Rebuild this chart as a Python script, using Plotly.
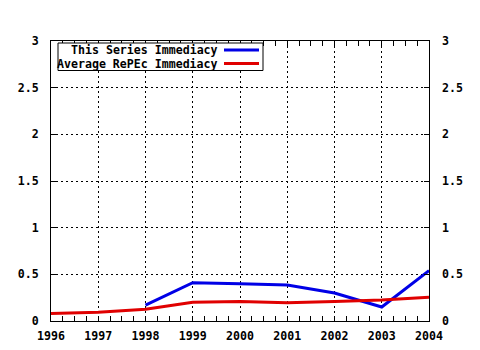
import plotly.graph_objects as go

years_blue = [1998, 1999, 2000, 2001, 2002, 2003, 2004]
series_immediacy = [0.17, 0.41, 0.40, 0.385, 0.30, 0.15, 0.54]

years_red = [1996, 1997, 1998, 1999, 2000, 2001, 2002, 2003, 2004]
average_immediacy = [0.08, 0.095, 0.125, 0.20, 0.21, 0.195, 0.21, 0.225, 0.255]

x_ticks = [1996, 1997, 1998, 1999, 2000, 2001, 2002, 2003, 2004]
y_ticks = [0, 0.5, 1, 1.5, 2, 2.5, 3]
y_labels = ["0", "0.5", "1", "1.5", "2", "2.5", "3"]
legend_names = ["This Series Immediacy", "Average RePEc Immediacy"]
colors = ["#0000e6", "#e00000"]

FAM = "DejaVu Sans Mono, Liberation Mono, monospace"
TICKFONT = dict(family=FAM, size=11.6, color="black", weight="bold")

fig = go.Figure()
fig.add_trace(go.Scatter(x=years_blue, y=series_immediacy, mode="lines",
                         line=dict(color=colors[0], width=3), showlegend=False))
fig.add_trace(go.Scatter(x=years_red, y=average_immediacy, mode="lines",
                         line=dict(color=colors[1], width=3), showlegend=False))
# invisible trace to carry right y-axis labels
fig.add_trace(go.Scatter(x=[1996], y=[0], yaxis="y2", mode="markers",
                         marker=dict(opacity=0), showlegend=False, hoverinfo="skip"))

axis_common = dict(showline=True, linecolor="black", linewidth=1, ticks="inside",
                   ticklen=5, tickcolor="black", zeroline=False, tickfont=TICKFONT,
                   automargin=False)
GRID = dict(showgrid=True, gridcolor="black", griddash="2px,3px", gridwidth=1)

fig.update_layout(
    width=480, height=350,
    margin=dict(l=51, r=51, t=41, b=29),
    paper_bgcolor="white", plot_bgcolor="white",
    font=dict(family=FAM, size=12, color="black"),
    xaxis=dict(range=[1996, 2004], tickvals=x_ticks, ticktext=[str(v) for v in x_ticks],
               mirror="allticks", ticklabelstandoff=4,
               minor=dict(dtick=0.25, tick0=1996, ticks="inside", ticklen=3,
                          tickcolor="black", showgrid=False),
               **GRID, **axis_common),
    yaxis=dict(range=[0, 3], tickvals=y_ticks, ticktext=y_labels, mirror="allticks",
               ticklabelstandoff=9, **GRID, **axis_common),
    yaxis2=dict(range=[0, 3], tickvals=y_ticks, ticktext=y_labels, overlaying="y",
                side="right", showgrid=False, showline=False, ticks="",
                zeroline=False, ticklabelstandoff=12, tickfont=TICKFONT,
                automargin=False),
)

# custom legend: text left of line sample, boxed
x0p = (58 - 51) / 378
x1p = (263 - 51) / 378
y_top = (321 - 43) / 280
y_bot = (321 - 70.5) / 280
fig.add_shape(type="rect", xref="paper", yref="paper", x0=x0p, x1=x1p, y0=y_bot, y1=y_top,
              line=dict(color="black", width=1), fillcolor="white", layer="above")
for i, (name, col) in enumerate(zip(legend_names, colors)):
    ypix = 50.0 + i * 13.6
    yp = (321 - ypix) / 280
    fig.add_annotation(xref="paper", yref="paper", x=(219 - 51) / 378, y=yp,
                       text=name, showarrow=False, xanchor="right", yanchor="middle",
                       borderpad=0,
                       font=dict(family=FAM, size=11.6, color="black", weight="bold"))
    fig.add_shape(type="line", xref="paper", yref="paper", x0=(224 - 51) / 378,
                  x1=(259 - 51) / 378, y0=yp, y1=yp, line=dict(color=col, width=3),
                  layer="above")

fig.write_html("out.html")
